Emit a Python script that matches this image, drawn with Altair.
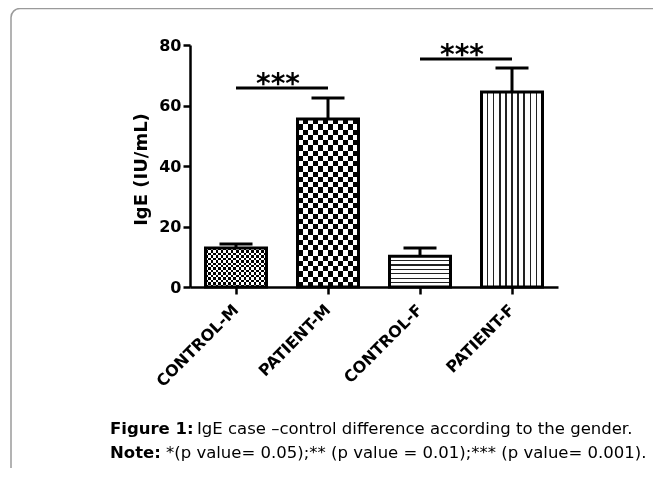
import altair as alt
import pandas as pd

# ---- data ----
groups = ["CONTROL-M", "PATIENT-M", "CONTROL-F", "PATIENT-F"]
means = [12.9, 55.5, 10.2, 64.5]
errors = [1.3, 7.0, 2.7, 7.9]

bracket_from = ["CONTROL-M", "CONTROL-F"]
bracket_to = ["PATIENT-M", "PATIENT-F"]
bracket_y = [65.8, 75.4]
bracket_label = ["***", "***"]

y_ticks = [0, 20, 40, 60, 80]
y_title = "IgE (IU/mL)"

caption1_bold = "Figure 1:"
caption1_text = "IgE case \u2013control difference according to the gender."
caption2_bold = "Note:"
caption2_text = "*(p value= 0.05);** (p value = 0.01);*** (p value= 0.001)."

# ---- tables ----
df = pd.DataFrame({"group": groups, "mean": means,
                   "upper": [m + e for m, e in zip(means, errors)]})
br_rows = []
for i, (a, b, yv) in enumerate(zip(bracket_from, bracket_to, bracket_y)):
    br_rows.append({"pair": i, "group": a, "y": yv})
    br_rows.append({"pair": i, "group": b, "y": yv})
df_br = pd.DataFrame(br_rows)
df_star = pd.DataFrame({"group": bracket_from, "y": bracket_y, "label": bracket_label})

FONT = "DejaVu Sans"


# ---- pattern fills via gradients ----
def bands(n, vertical, first="black"):
    other = "white" if first == "black" else "black"
    stops = []
    for i in range(n):
        c = first if i % 2 == 0 else other
        stops.append(alt.GradientStop(offset=i / n, color=c))
        stops.append(alt.GradientStop(offset=(i + 1) / n, color=c))
    if vertical:
        return alt.LinearGradient(gradient="linear", stops=stops, x1=0, x2=1, y1=0, y2=0)
    return alt.LinearGradient(gradient="linear", stops=stops, x1=0, x2=0, y1=0, y2=1)


def lines(n, half, vertical, color="#222222"):
    stops = [alt.GradientStop(offset=0, color="white")]
    for k in range(1, n):
        c = k / n
        stops += [alt.GradientStop(offset=c - half, color="white"),
                  alt.GradientStop(offset=c - half, color=color),
                  alt.GradientStop(offset=c + half, color=color),
                  alt.GradientStop(offset=c + half, color="white")]
    stops.append(alt.GradientStop(offset=1, color="white"))
    if vertical:
        return alt.LinearGradient(gradient="linear", stops=stops, x1=0, x2=1, y1=0, y2=0)
    return alt.LinearGradient(gradient="linear", stops=stops, x1=0, x2=0, y1=0, y2=1)


x_scale = alt.Scale(paddingInner=0.337, paddingOuter=0.1685)
y_scale = alt.Scale(domain=[0, 80], nice=False)


def X():
    return alt.X("group:N", sort=groups, scale=x_scale, title=None)


def Y(field):
    return alt.Y(field, scale=y_scale, title=y_title,
                 axis=alt.Axis(values=y_ticks))


base = alt.Chart(df)
layers = []

# frame decoration
frame = alt.Chart(pd.DataFrame({"k": [0]})).mark_rect(
    fill=None, stroke="#9a9a9a", strokeWidth=1.5, cornerRadius=9
).encode(x=alt.value(-179), x2=alt.value(700), y=alt.value(-36.5), y2=alt.value(700))
layers.append(frame)

# checker bars (difference blend of vertical & horizontal bands)
checker = {"CONTROL-M": (24, 16), "PATIENT-M": (12, 32)}
for g, (nc, nr) in checker.items():
    f = base.transform_filter(alt.datum.group == g)
    layers.append(f.mark_bar(fill=bands(nc, True), strokeWidth=0).encode(x=X(), y=Y("mean:Q")))
    layers.append(f.mark_bar(fill=bands(nr, False, first="white"), strokeWidth=0,
                             blend="difference").encode(x=X(), y=Y("mean:Q")))

f3 = base.transform_filter(alt.datum.group == "CONTROL-F")
layers.append(f3.mark_bar(fill=lines(7, 0.02, False), strokeWidth=0).encode(x=X(), y=Y("mean:Q")))
f4 = base.transform_filter(alt.datum.group == "PATIENT-F")
layers.append(f4.mark_bar(fill=lines(10, 0.012, True), strokeWidth=0).encode(x=X(), y=Y("mean:Q")))

# outlines
layers.append(base.mark_bar(fill="transparent", stroke="black", strokeWidth=3)
              .encode(x=X(), y=Y("mean:Q")))

# error bars (upper only)
layers.append(base.mark_rule(color="black", strokeWidth=3)
              .encode(x=X(), y=Y("mean:Q"), y2="upper:Q"))
layers.append(base.mark_tick(color="black", thickness=3, size=33, opacity=1)
              .encode(x=X(), y=Y("upper:Q")))

# significance brackets
layers.append(alt.Chart(df_br).mark_line(color="black", strokeWidth=3)
              .encode(x=X(), y=Y("y:Q"), detail="pair:N"))
layers.append(alt.Chart(df_star).mark_text(font=FONT, fontWeight="bold", fontSize=28,
                                           dx=42, dy=5, baseline="alphabetic", color="black")
              .encode(x=X(), y=Y("y:Q"), text="label:N"))

# caption
cap = [(caption1_bold, -80, 389, "bold"), (caption1_text, 7, 389, "normal"),
       (caption2_bold, -80, 413, "bold"), (caption2_text, -24, 413, "normal")]
for t, xx, yy, w in cap:
    layers.append(alt.Chart(pd.DataFrame({"t": [t]})).mark_text(
        font=FONT, fontSize=16.5, fontWeight=w, align="left", baseline="alphabetic", color="black"
    ).encode(x=alt.value(xx), y=alt.value(yy), text="t:N"))

chart = alt.layer(*layers).properties(
    width=368, height=242,
    padding={"left": 182, "top": 37, "right": 95, "bottom": 181},
    autosize=alt.AutoSizeParams(type="none"),
    background="white",
).configure_view(stroke=None).configure_axis(
    grid=False, domainColor="black", tickColor="black", labelColor="black",
    titleColor="black", labelFont=FONT, titleFont=FONT, labelFontWeight="bold",
    titleFontWeight="bold", domainWidth=2.5, tickWidth=2.5,
).configure_axisY(
    labelFontSize=16, tickSize=7, labelPadding=2, titleFontSize=18,
    titleX=-40, titleY=124,
).configure_axisX(
    labelFontSize=16, tickSize=7, labelAngle=-45, labelAlign="right",
    labelBaseline="middle", labelPadding=13,
)

chart.save("out.html", embed_options={"renderer": "svg", "actions": False})
